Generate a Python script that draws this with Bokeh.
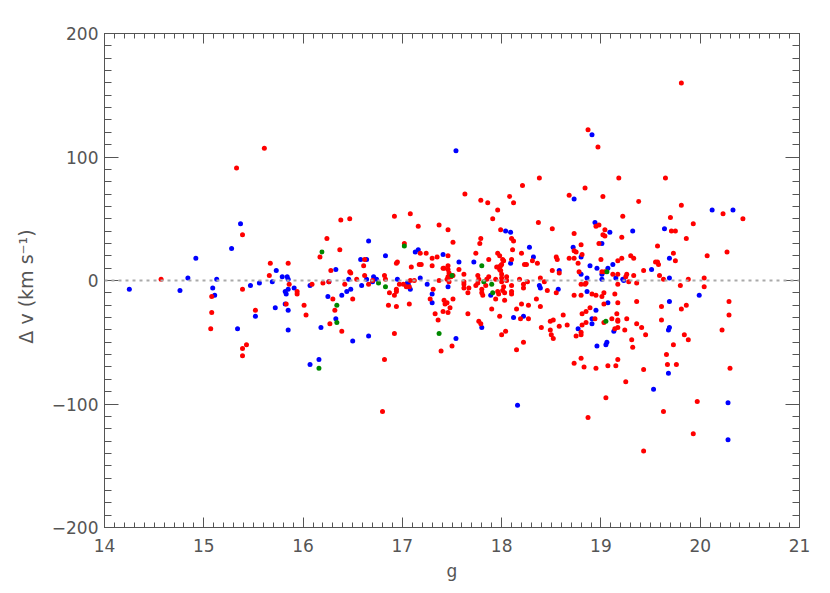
import numpy as np
from bokeh.plotting import figure
from bokeh.models import FixedTicker, LinearAxis, Span
from bokeh.embed import file_html
from bokeh.resources import INLINE

# ---------------- data ----------------
red_g = [15.61, 15.33, 15.39, 15.67, 15.85, 15.66, 14.57, 15.86, 15.39, 15.94, 15.94, 15.08, 15.08, 15.52, 15.83, 15.07, 15.43, 15.39, 15.39,
         17.63, 16.38, 16.47, 16.92, 17.08, 17.16, 17.37, 17.46, 16.24, 17.02, 17.51, 16.37, 16.17, 16.62, 17.18, 17.24, 17.35, 17.30, 17.30, 17.46, 17.74,
         16.95, 16.94, 17.09, 17.17, 17.19, 16.61, 16.28, 16.47, 16.48, 17.41, 17.42, 17.46, 17.46, 17.57, 17.51, 17.47, 17.46, 17.49, 17.62, 16.62, 16.82,
         16.83, 16.54, 16.70, 17.08, 17.12, 16.97, 17.01, 17.37, 17.45, 17.47, 17.62, 17.62, 17.67, 17.62, 17.74, 16.09, 16.20, 16.26, 16.42, 16.66, 16.94,
         17.04, 17.07, 17.31,
         16.94, 16.92, 16.87, 17.28, 17.51, 17.42, 17.43, 17.45, 17.48, 17.41, 17.46, 17.33, 17.36, 17.66, 17.66, 16.50, 16.30, 16.01, 16.32, 16.03, 16.27,
         16.39, 16.86, 16.94, 17.07, 16.92, 17.50, 17.39, 16.82, 16.80,
         18.87, 18.97, 18.38, 19.18, 18.21, 18.84, 18.68, 19.02, 17.79, 17.86, 18.08, 18.12, 19.38, 17.96, 19.22, 17.91, 18.37, 18.98, 18.95, 17.99, 18.51,
         19.04, 19.04, 19.02, 19.21, 18.73, 17.79, 17.78, 18.10, 18.12, 18.98, 18.80, 18.11, 18.73, 18.75, 18.20, 17.96, 17.98, 18.31, 18.81, 19.30, 19.33,
         18.55, 18.56, 18.68, 18.73, 19.00, 17.87, 18.01, 18.02, 19.21, 19.17, 18.10, 18.23, 18.25, 18.36, 18.77, 17.95, 17.97, 17.99, 18.00, 17.98, 17.99,
         18.00, 18.51, 18.58, 18.78, 19.01, 19.04, 19.12, 19.17, 19.26, 19.25, 19.33, 17.76, 17.77, 17.87, 17.85, 17.94, 18.00, 18.05, 18.05, 18.39, 18.18,
         18.26, 19.28, 19.36, 19.17, 17.76, 17.80, 17.84, 18.02, 18.01, 18.10, 18.22, 18.22, 18.43, 18.46, 18.80, 18.84, 18.85, 18.00,
         17.80, 17.81, 17.90, 17.96, 17.97, 18.03, 17.94, 18.03, 18.10, 18.10, 17.98, 18.15, 18.20, 18.27, 18.19, 18.27, 17.77, 17.79, 18.04, 18.00, 18.22,
         18.15, 18.55, 18.35, 18.39, 18.73, 18.80, 18.91, 18.95, 19.14, 19.03, 19.01, 19.03, 19.17, 19.36, 18.89, 18.85, 18.81, 18.62, 18.49, 18.52, 18.40,
         18.58, 18.66, 18.81, 18.85, 18.94, 18.80, 18.80, 18.75, 18.49, 18.50, 18.52, 19.16, 19.11, 19.17, 19.17, 19.26, 19.36, 19.14, 19.17, 19.24, 19.03,
         19.31, 19.32, 19.17, 19.15, 19.07, 18.95, 18.83, 18.80, 18.73, 19.25, 19.05, 18.87,
         19.81, 19.65, 19.81, 20.23, 20.43, 19.70, 19.93, 19.71, 19.75, 19.86, 19.57, 19.73, 20.27, 20.07, 19.75, 19.55, 19.57, 19.58, 19.43, 19.59, 19.63,
         19.88, 20.04, 19.80, 20.04,
         19.61, 19.81, 19.86, 20.29, 20.29, 19.61, 19.41, 20.22, 19.45, 19.84, 19.88, 19.73, 19.66, 19.67, 19.76, 19.43, 20.30, 19.97, 19.63, 19.93, 19.43]
red_dv = [107, 91, 37, 14, 14, 4, 1, -3, -7, -9, -11, -13, -26, -24, -19, -39, -52, -55, -61,
          70, 49, 50, 52, 54, 44, 45, 41, 34, 30, 31, 25, 19, 17, 22, 22, 19, 18, 12, 20, 22,
          15, 14, 11, 13, 13, 12, 8, 7, 6, 10, 10, 12, 9, 9, 4, 6, 3, 3, 5, 4, 4,
          1, 1, 0, 0, 0, -3, -3, 0, 1, -1, -1, -3, -6, -6, -4, -3, -2, -1, -3, -3, -7,
          -5, -5, -7,
          -9, -12, -10, -15, -15, -16, -19, -18, -22, -25, -26, -27, -32, -27, -10, -15, -15, -20, -24, -28, -35,
          -41, -20, -21, -19, -43, -53, -57, -64, -106,
          122, 108, 83, 83, 77, 75, 69, 68, 65, 63, 68, 63, 64, 57, 52, 50, 47, 45, 44, 41, 42,
          41, 36, 37, 35, 38, 34, 30, 34, 32, 30, 29, 25, 24, 23, 22, 22, 20, 16, 21, 20, 18,
          19, 17, 18, 18, 17, 17, 17, 16, 18, 16, 17, 13, 13, 14, 14, 11, 11, 12, 13, 9, 8,
          5, 8, 6, 7, 7, 7, 5, 5, 5, 3, 4, 4, 1, 3, 1, 1, 2, 3, 0, 2, 1,
          -1, -1, -2, -3, -2, -7, -4, -5, -8, -4, -3, -6, -1, -8, -3, -3, -2, -1,
          -10, -12, -23, -9, -11, -10, -15, -16, -9, -11, -29, -23, -19, -20, -31, -31, -33, -35, -41, -44, -50,
          -56, -10, -15, -21, -12, -12, -11, -12, -11, -10, -13, -19, -18, -17, -22, -25, -27, -28, -33, -32, -38,
          -37, -36, -36, -34, -31, -42, -44, -45, -40, -44, -47, -27, -31, -32, -33, -31, -35, -39, -38, -40, -34,
          -48, -54, -64, -69, -69, -71, -70, -63, -67, -82, -95, -111,
          160, 83, 61, 54, 50, 51, 46, 40, 40, 34, 28, 22, 23, 20, 16, 15, 15, 13, 8, 4, 1,
          1, 2, -4, -5,
          -21, -23, -20, -17, -28, -32, -38, -40, -44, -44, -48, -52, -60, -68, -68, -72, -71, -98, -106, -124, -138]

blue_g = [15.37, 15.28, 14.92, 15.79, 15.84, 14.84, 15.13, 15.73, 15.69, 15.85, 15.47, 15.56, 15.91, 15.85, 14.25, 15.09, 14.76, 15.82, 15.83, 15.11,
          15.52, 15.72, 15.82, 15.85, 15.34, 15.85,
          17.54, 16.66, 16.58, 16.64, 16.83, 17.13, 17.16, 17.41, 17.57, 17.72, 16.33, 16.71, 16.46, 16.64, 16.74, 16.70, 16.95, 17.18, 17.05, 17.06,
          16.07, 16.26, 16.59, 16.48, 17.08, 17.25, 17.46,
          17.30, 17.30, 16.39, 16.44, 16.25, 16.33, 16.18, 16.50, 16.66, 17.54, 16.07, 16.16,
          18.91, 18.73, 18.94, 18.04, 18.09, 19.09, 19.32, 19.01, 18.28, 18.72, 18.32, 18.80, 18.09, 18.89, 18.96, 19.12, 19.07, 18.86, 19.01, 19.01,
          18.38, 18.39, 18.57, 19.15, 19.22, 19.23, 18.58, 18.80,
          17.89, 18.12, 18.22, 17.80, 18.86, 18.95, 18.91, 18.91, 18.77, 19.07, 19.13, 18.96, 19.05, 19.06, 18.16,
          20.12, 20.33, 19.64, 19.69, 19.51, 19.69,
          19.99, 19.69, 19.69, 19.68, 19.68, 19.53, 20.28, 20.28]
blue_dv = [46, 26, 18, 3, 3, 2, 1, 8, -1, 1, -4, -2, -6, -7, -7, -6, -8, -9, -11, -12,
           -29, -22, -19, -24, -39, -40,
           105, 32, 17, 17, 20, 23, 25, 21, 15, 15, 9, 3, 1, 1, 1, -1, 1, 2, -2, -3,
           -4, -1, -4, -7, -7, -3, -5,
           -11, -18, -12, -9, -13, -31, -38, -49, -45, -47, -68, -64,
           118, 66, 47, 40, 39, 39, 40, 30, 27, 27, 19, 19, 14, 12, 10, 13, 10, 2, 1, 5,
           -4, -6, -7, 2, 1, 0, 8, 5,
           -12, -30, -29, -38, -9, -24, -31, -35, -39, -18, -41, -53, -52, -50, -101,
           57, 57, 42, 18, 9, 2,
           -12, -17, -38, -40, -75, -88, -99, -129]

green_g = [17.02, 16.19, 17.50, 16.76, 16.83, 16.34, 16.34, 17.37, 16.16, 17.80, 17.90, 17.82, 19.06, 17.91, 19.05]
green_dv = [28, 23, 4, -2, -5, -20, -34, -43, -71, 12, -3, -1, 7, -10, -33]

x_ticks = [14, 15, 16, 17, 18, 19, 20, 21]
y_ticks = [-200, -100, 0, 100, 200]
y_tick_labels = {-200: "\u2212200", -100: "\u2212100", 0: "0", 100: "100", 200: "200"}

# ---------------- figure ----------------
AX = "#555555"
TXT = "#555555"
FONT = "DejaVu Sans"

p = figure(x_range=(14, 21), y_range=(-200, 200),
           frame_width=695, frame_height=494,
           min_border_left=104, min_border_right=23, min_border_top=33, min_border_bottom=58,
           output_backend="svg", toolbar_location=None)
p.grid.visible = False
p.outline_line_color = AX
p.background_fill_color = "white"
p.border_fill_color = "white"

x_minor = [round(v, 1) for v in np.arange(14.0, 21.0001, 0.1)]
y_minor = list(range(-200, 201, 10))
xt = FixedTicker(ticks=x_ticks, minor_ticks=x_minor)
yt = FixedTicker(ticks=y_ticks, minor_ticks=y_minor)


def style_x(ax, show_labels):
    ax.ticker = xt
    ax.axis_line_color = AX
    ax.major_tick_line_color = AX
    ax.minor_tick_line_color = AX
    ax.major_tick_in = 10
    ax.major_tick_out = 0
    ax.minor_tick_in = 5
    ax.minor_tick_out = 0
    if show_labels:
        ax.major_label_text_font = FONT
        ax.major_label_text_font_size = "17px"
        ax.major_label_text_color = TXT
        ax.major_label_standoff = 11
    else:
        ax.major_label_overrides = {t: "" for t in x_ticks}
        ax.major_label_standoff = 0


def style_y(ax, show_labels):
    ax.ticker = yt
    ax.axis_line_color = AX
    ax.major_tick_line_color = AX
    ax.minor_tick_line_color = AX
    ax.major_tick_in = 14
    ax.major_tick_out = 0
    ax.minor_tick_in = 7
    ax.minor_tick_out = 0
    if show_labels:
        ax.major_label_text_font = FONT
        ax.major_label_text_font_size = "17px"
        ax.major_label_text_color = TXT
        ax.major_label_standoff = 6
        ax.major_label_overrides = y_tick_labels
    else:
        ax.major_label_overrides = {t: "" for t in y_ticks}
        ax.major_label_standoff = 0


style_x(p.xaxis[0], True)
style_y(p.yaxis[0], True)
p.xaxis.axis_label = "g"
p.xaxis.axis_label_text_font = FONT
p.xaxis.axis_label_text_font_size = "17px"
p.xaxis.axis_label_text_font_style = "normal"
p.xaxis.axis_label_text_color = TXT
p.xaxis.axis_label_standoff = 6

p.yaxis.axis_label = "\u0394  v  (km s\u207b\u00b9)"
p.yaxis.axis_label_text_font = FONT
p.yaxis.axis_label_text_font_size = "19px"
p.yaxis.axis_label_text_font_style = "normal"
p.yaxis.axis_label_text_color = TXT
p.yaxis.axis_label_standoff = 12

top = LinearAxis()
style_x(top, False)
p.add_layout(top, "above")
right = LinearAxis()
style_y(right, False)
p.add_layout(right, "right")

p.add_layout(Span(location=0, dimension="width", line_color="#aaaaaa",
                  line_dash="3 4", line_width=2))

p.scatter(blue_g, blue_dv, size=5, color="#0000ff", line_color=None)
p.scatter(red_g, red_dv, size=5, color="#ff0000", line_color=None)
p.scatter(green_g, green_dv, size=5, color="#008800", line_color=None)

open("out.html", "w").write(file_html(p, INLINE))
